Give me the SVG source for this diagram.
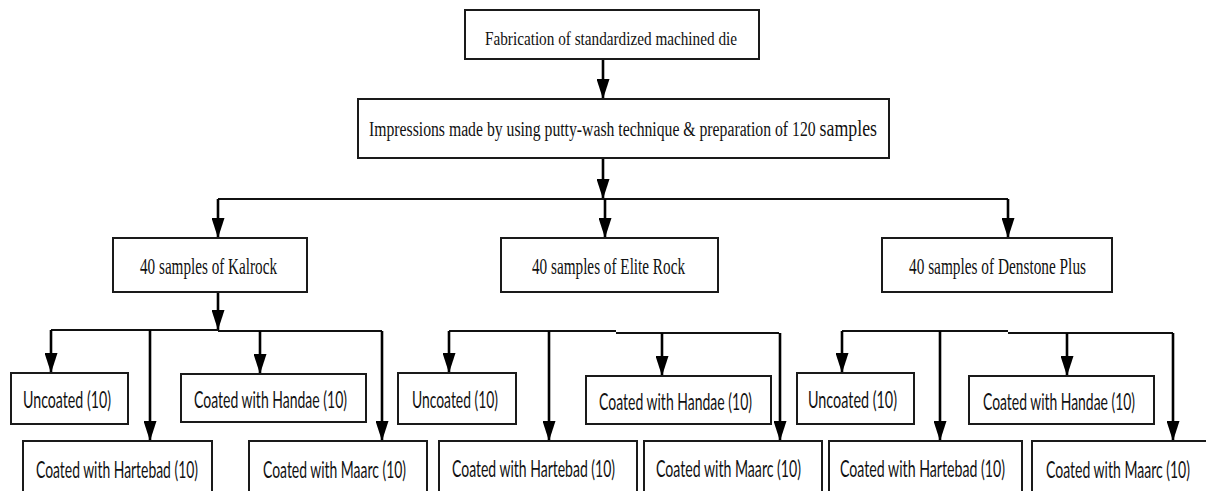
<svg xmlns="http://www.w3.org/2000/svg" width="1206" height="491" viewBox="0 0 1206 491">
<style>
.box{fill:#fff;stroke:#1a1a1a;stroke-width:2}
.ser{font-family:"Liberation Serif","Times New Roman",serif;fill:#111}
.san{font-family:Lato,"Open Sans","Liberation Sans",sans-serif;fill:#111;font-size:14.5px}
.con{fill:none;stroke:#000;stroke-width:2.6}
.hl{fill:none;stroke:#111;stroke-width:2.2}
</style>
<defs>
<marker id="ah" viewBox="0 0 20 13" refX="20" refY="6.5" markerWidth="20" markerHeight="13" markerUnits="userSpaceOnUse" orient="auto">
<path d="M0,0 L20,6.5 L0,13 z" fill="#000"/>
</marker>
</defs>
<rect width="1206" height="491" fill="#fff"/>

<g id="connectors">
<path class="con" d="M603,59 V99" marker-end="url(#ah)"/>
<path class="con" d="M603,158 V199" marker-end="url(#ah)"/>
<path class="hl" d="M218,199 H1008"/>
<path class="con" d="M218,199 V238" marker-end="url(#ah)"/>
<path class="con" d="M605,199 V238" marker-end="url(#ah)"/>
<path class="con" d="M1008,199 V238" marker-end="url(#ah)"/>
<path class="con" d="M218,292 V330" marker-end="url(#ah)"/>
<path class="hl" d="M51,330 H218 M218,331 H382"/>
<path class="con" d="M51,330 V373" marker-end="url(#ah)"/>
<path class="con" d="M150,330 V441" marker-end="url(#ah)"/>
<path class="con" d="M260,331 V374" marker-end="url(#ah)"/>
<path class="con" d="M382,331 V441" marker-end="url(#ah)"/>
<path class="hl" d="M449,331 H616 M616,333 H779"/>
<path class="con" d="M449,331 V373" marker-end="url(#ah)"/>
<path class="con" d="M549,331 V441" marker-end="url(#ah)"/>
<path class="con" d="M662,333 V376" marker-end="url(#ah)"/>
<path class="con" d="M780,333 V441" marker-end="url(#ah)"/>
<path class="hl" d="M842,331 H1008 M1008,333 H1173"/>
<path class="con" d="M842,331 V373" marker-end="url(#ah)"/>
<path class="con" d="M940,331 V441" marker-end="url(#ah)"/>
<path class="con" d="M1067,333 V376" marker-end="url(#ah)"/>
<path class="con" d="M1173,333 V441" marker-end="url(#ah)"/>
</g>

<g id="fabrication">
<rect class="box" x="465" y="10" width="294" height="49"/>
<text class="ser" transform="translate(485,45) scale(1,1.4)" font-size="14" textLength="252" lengthAdjust="spacingAndGlyphs">Fabrication of standardized machined die</text>
</g>
<g id="impressions">
<rect class="box" x="358" y="99" width="531" height="59"/>
<text class="ser" transform="translate(369,136) scale(1,1.35)" font-size="15" textLength="508" lengthAdjust="spacingAndGlyphs">Impressions made by using putty-wash technique &amp; preparation of 120 <tspan font-size="17">samples</tspan></text>
</g>
<g id="kalrock">
<rect class="box" x="113" y="238" width="194" height="54"/>
<text class="ser" transform="translate(140,274) scale(1,1.6)" font-size="15" textLength="137" lengthAdjust="spacingAndGlyphs">40 samples of Kalrock</text>
</g>
<g id="eliterock">
<rect class="box" x="501" y="238" width="217" height="54"/>
<text class="ser" transform="translate(532,274) scale(1,1.6)" font-size="15" textLength="153" lengthAdjust="spacingAndGlyphs">40 samples of Elite Rock</text>
</g>
<g id="denstone">
<rect class="box" x="882" y="238" width="230" height="54"/>
<text class="ser" transform="translate(909,274) scale(1,1.6)" font-size="15" textLength="177" lengthAdjust="spacingAndGlyphs">40 samples of Denstone Plus</text>
</g>

<g id="k-uncoated">
<rect class="box" x="11" y="373" width="117" height="51"/>
<text class="san" transform="translate(23,408) scale(1,1.6)" textLength="88" lengthAdjust="spacingAndGlyphs">Uncoated (10)</text>
</g>
<g id="k-handae">
<rect class="box" x="181" y="374" width="185" height="48"/>
<text class="san" transform="translate(194,408) scale(1,1.6)" textLength="153" lengthAdjust="spacingAndGlyphs">Coated with Handae (10)</text>
</g>
<g id="k-hartebad">
<rect class="box" x="23" y="441" width="189" height="60"/>
<text class="san" transform="translate(36,478) scale(1,1.6)" textLength="162" lengthAdjust="spacingAndGlyphs">Coated with Hartebad (10)</text>
</g>
<g id="k-maarc">
<rect class="box" x="249" y="441" width="178" height="60"/>
<text class="san" transform="translate(263,478) scale(1,1.6)" textLength="143" lengthAdjust="spacingAndGlyphs">Coated with Maarc (10)</text>
</g>

<g id="e-uncoated">
<rect class="box" x="398" y="373" width="118" height="51"/>
<text class="san" transform="translate(412,408) scale(1,1.6)" textLength="86" lengthAdjust="spacingAndGlyphs">Uncoated (10)</text>
</g>
<g id="e-handae">
<rect class="box" x="586" y="376" width="185" height="48"/>
<text class="san" transform="translate(599,410) scale(1,1.6)" textLength="153" lengthAdjust="spacingAndGlyphs">Coated with Handae (10)</text>
</g>
<g id="e-hartebad">
<rect class="box" x="439" y="441" width="198" height="60"/>
<text class="san" transform="translate(452,477) scale(1,1.6)" textLength="163" lengthAdjust="spacingAndGlyphs">Coated with Hartebad (10)</text>
</g>
<g id="e-maarc">
<rect class="box" x="644" y="441" width="178" height="60"/>
<text class="san" transform="translate(656,477) scale(1,1.6)" textLength="145" lengthAdjust="spacingAndGlyphs">Coated with Maarc (10)</text>
</g>

<g id="d-uncoated">
<rect class="box" x="797" y="373" width="117" height="51"/>
<text class="san" transform="translate(808,408) scale(1,1.6)" textLength="89" lengthAdjust="spacingAndGlyphs">Uncoated (10)</text>
</g>
<g id="d-handae">
<rect class="box" x="969" y="376" width="185" height="48"/>
<text class="san" transform="translate(983,410) scale(1,1.6)" textLength="152" lengthAdjust="spacingAndGlyphs">Coated with Handae (10)</text>
</g>
<g id="d-hartebad">
<rect class="box" x="829" y="441" width="193" height="60"/>
<text class="san" transform="translate(840,477) scale(1,1.6)" textLength="165" lengthAdjust="spacingAndGlyphs">Coated with Hartebad (10)</text>
</g>
<g id="d-maarc">
<rect class="box" x="1032" y="441" width="190" height="60"/>
<text class="san" transform="translate(1046,478) scale(1,1.6)" textLength="144" lengthAdjust="spacingAndGlyphs">Coated with Maarc (10)</text>
</g>
</svg>
